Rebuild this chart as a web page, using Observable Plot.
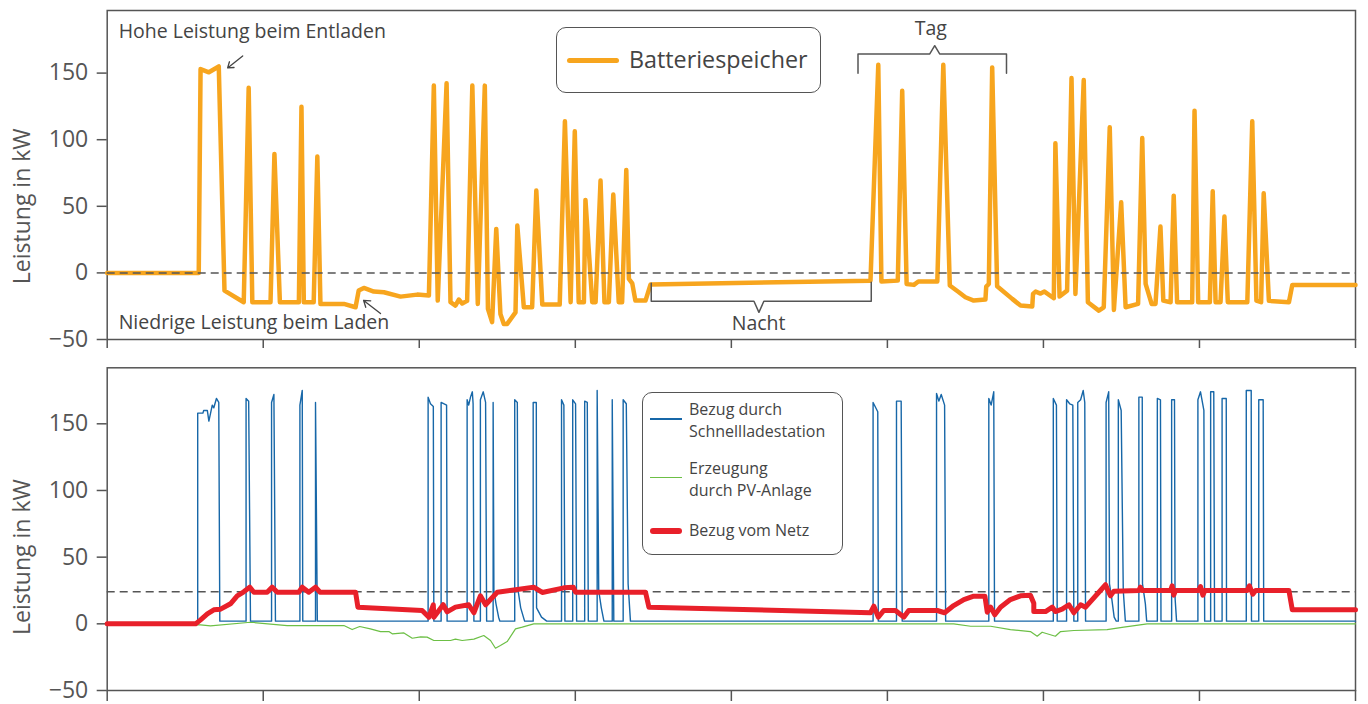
<!DOCTYPE html>
<html><head><meta charset="utf-8">
<script src="https://cdn.jsdelivr.net/npm/d3@7"></script>
<script src="https://cdn.jsdelivr.net/npm/@observablehq/plot@0.6"></script>
<style>
body{margin:0;background:#fff;font-family:"Open Sans",sans-serif;}
#wrap{position:relative;width:1368px;height:704px;overflow:hidden;background:#fff;}
#wrap svg{display:block;}
.legend{position:absolute;border:1.5px solid #555;border-radius:10px;background:#fff;box-sizing:border-box;color:#444;}
.sw{position:absolute;border-radius:3px;}
.lt{position:absolute;white-space:nowrap;font-size:16px;line-height:22px;height:22px;}
</style>
</head><body>
<div id="wrap"></div>
<script>
// ---- data (x in hours, y in kW) ----
const xTicks = [0, 6, 12, 18, 24, 30, 36, 42, 48];
const yTicks = [-50, 0, 50, 100, 150];
const yLabel = "Leistung in kW";

const batterie = [[0,0],[3.52,0],[3.59,153],[3.91,150.6],[4.29,155],[4.51,-13.3],[5.25,-22],[5.44,139],[5.58,-22],[6.28,-22],[6.43,89.3],[6.64,-22],[7.37,-22],[7.47,124.8],[7.56,-22],[7.94,-22],[8.08,87.3],[8.2,-23.3],[9.1,-23.3],[9.55,-25.8],[9.67,-13.3],[9.87,-11.3],[10.25,-14],[10.64,-14.5],[11.28,-17.8],[11.92,-16.3],[12.37,-17],[12.56,140.6],[12.71,-20.8],[13.05,142.3],[13.2,-22],[13.39,-24.5],[13.52,-20],[13.65,-23],[13.84,-21],[14.04,140.6],[14.25,-23.3],[14.52,140.6],[14.64,-27],[14.8,-37],[14.96,33],[15.12,-30.8],[15.25,-38.3],[15.38,-38.3],[15.7,-29.6],[15.77,35.5],[16.02,-25.8],[16.34,-25.8],[16.5,61.8],[16.73,-23.8],[17.4,-23.8],[17.6,113.8],[17.82,-22],[17.98,106.3],[18.13,-22],[18.33,-22],[18.39,54.8],[18.65,-22],[18.78,-22],[18.97,69.3],[19.12,-22],[19.29,-22],[19.46,58.8],[19.67,-22],[19.8,-22],[19.96,77.3],[20.06,-4.5],[20.19,-7.8],[20.31,-20.8],[20.7,-20.8],[20.89,-8.8],[29.35,-5.8],[29.65,156.3],[29.77,-6.5],[30.4,-5.8],[30.57,136.8],[30.74,-8.3],[31.02,-9],[31.19,-6.5],[31.92,-6.5],[32.15,156.3],[32.4,-9.5],[32.75,-14.5],[33.0,-18.3],[33.32,-20.8],[33.77,-20],[33.8,-10.3],[33.9,-8.3],[34.03,154.3],[34.22,-10],[34.8,-19.5],[35.12,-24.5],[35.57,-25.3],[35.6,-15.8],[35.7,-14],[35.89,-15.5],[36.04,-14],[36.4,-19],[36.46,97.3],[36.62,-17.8],[36.91,-13.3],[37.08,146.3],[37.23,-15.8],[37.55,144.8],[37.71,-22],[38.13,-28.3],[38.32,-25.8],[38.55,109.3],[38.71,-27.8],[38.99,53],[39.16,-25.8],[39.64,-23.3],[39.8,101.3],[39.93,-8.3],[40.16,-23.3],[40.31,-23.3],[40.5,34.8],[40.61,-20.8],[40.89,-22],[41.01,58],[41.14,-22],[41.72,-22],[41.81,121.8],[41.95,-22],[42.4,-22],[42.51,61.3],[42.62,-22],[42.81,-22],[42.96,42.3],[43.09,-22],[43.84,-22],[44.03,113.8],[44.19,-20.8],[44.37,-22],[44.47,59.8],[44.67,-21],[45.44,-22],[45.57,-9],[48,-9]];

const ladestation = [[0,0],[3.48,0],[3.48,158],[3.68,158],[3.71,160],[3.85,160],[3.91,152],[4.04,164],[4.1,162],[4.2,169],[4.29,166],[4.33,2],[5.34,2],[5.34,169],[5.44,167],[5.51,2],[6.32,2],[6.32,166],[6.41,172],[6.47,2],[7.41,2],[7.41,164],[7.5,175],[7.52,2],[8.01,2],[8.01,166],[8.08,2],[12.34,2],[12.34,170],[12.43,165],[12.54,163],[12.56,2],[12.84,2],[12.84,166],[13.05,164],[13.07,2],[13.84,2],[13.84,168],[13.9,164],[13.97,170],[14.04,174],[14.07,165],[14.1,2],[14.35,2],[14.35,168],[14.46,174],[14.55,166],[14.59,2],[14.84,2],[14.84,166],[14.87,25],[14.95,15],[15.05,5],[15.1,2],[15.67,2],[15.67,168],[15.77,166],[15.8,25],[15.9,12],[16.05,2],[16.38,2],[16.38,166],[16.5,166],[16.51,12],[16.7,5],[16.9,2],[17.47,2],[17.47,168],[17.56,164],[17.6,2],[17.9,2],[17.9,168],[18.01,165],[18.05,2],[18.36,2],[18.36,167],[18.46,166],[18.5,2],[18.84,2],[18.84,175],[18.9,25],[19.0,12],[19.1,2],[19.42,2],[19.42,168],[19.48,2],[19.84,2],[19.84,168],[19.96,165],[20.03,30],[20.12,2],[29.45,2],[29.45,166],[29.63,159],[29.65,2],[30.35,2],[30.35,167],[30.53,167],[30.57,2],[31.89,2],[31.89,172.7],[31.98,167],[32.07,172],[32.2,164],[32.24,2],[33.9,2],[33.9,169],[33.99,164],[34.09,174],[34.12,2],[36.38,2],[36.38,169],[36.5,164],[36.53,2],[36.89,2],[36.89,168],[37.01,165],[37.13,164],[37.17,2],[37.32,2],[37.32,166],[37.43,168],[37.53,175],[37.59,166],[37.62,2],[38.41,2],[38.41,166],[38.51,174],[38.54,30],[38.62,20],[38.72,5],[38.8,2],[38.88,2],[38.88,168],[38.99,160],[39.07,25],[39.15,2],[39.67,2],[39.67,170],[39.8,170],[39.81,30],[39.92,15],[39.97,2],[40.38,2],[40.38,169],[40.5,168],[40.52,2],[40.93,2],[40.93,168],[41.04,168],[41.06,20],[41.12,2],[41.94,2],[41.94,168],[42.04,174],[42.17,160],[42.2,2],[42.43,2],[42.43,174],[42.55,174],[42.58,2],[42.87,2],[42.87,169],[43.03,169],[43.04,2],[43.8,2],[43.8,175],[43.99,175],[44.0,2],[44.28,2],[44.28,168],[44.45,168],[44.47,2],[48,2]];

const pvAnlage = [[0,0],[3.59,-0.8],[3.97,-1.5],[5.51,1.2],[6.92,-1.3],[9.1,-1.3],[9.42,-4.3],[9.71,-2],[10.12,-3.8],[10.51,-5.8],[10.83,-5.8],[10.96,-7.5],[11.41,-6.8],[11.73,-10.8],[12.05,-9.8],[12.3,-10],[12.56,-12.5],[13.2,-12.5],[13.39,-11.5],[13.65,-12.5],[14.1,-11.5],[14.48,-8.8],[14.74,-12.5],[14.93,-18.3],[15.12,-16.3],[15.38,-13.3],[15.7,-3.8],[15.96,-2.5],[16.4,0],[32.55,0],[33.2,-1.8],[33.97,-1.8],[34.73,-4.3],[35.5,-5.8],[35.76,-9.3],[35.95,-6.3],[36.46,-9.3],[36.66,-5.8],[37.17,-5],[38.45,-4.3],[39.09,-2.5],[39.99,0],[48,0]];

const netz = [[0,0],[3.4,0],[3.59,3],[3.85,7.5],[4.1,10.5],[4.36,11],[4.74,15],[5.0,21],[5.25,24],[5.48,27.5],[5.64,23.7],[6.15,23.7],[6.34,27.5],[6.54,23.7],[7.37,23.7],[7.5,27.5],[7.75,23.7],[8.01,27.5],[8.18,23.7],[9.55,23.7],[9.64,12.5],[12.11,10],[12.37,5],[12.54,14.3],[12.56,5],[12.92,14.3],[13.07,9],[13.39,12.5],[13.9,14.3],[14.1,8.3],[14.35,21],[14.55,14.3],[15.0,23.7],[16.4,27.5],[16.73,23.5],[17.56,27],[17.92,27.5],[18.01,23.7],[20.7,23.7],[20.83,12.5],[29.35,8.3],[29.48,13.2],[29.65,5],[29.86,10],[30.31,10],[30.63,5],[30.82,10],[31.92,10],[32.2,8.3],[32.55,13.7],[32.94,18.2],[33.32,20.7],[33.75,20.7],[33.84,8.7],[33.97,12.5],[34.13,6.8],[34.35,12.5],[34.73,18.2],[35.12,21],[35.5,21.5],[35.63,15.5],[35.63,9.2],[36.08,9.2],[36.34,12.5],[36.46,9.2],[36.72,11],[36.98,14.3],[37.17,8.3],[37.43,14.3],[37.62,12.5],[38.39,29.3],[38.51,23.7],[38.58,21],[38.71,24.5],[39.67,25],[39.73,27.5],[39.8,25],[40.89,25],[40.95,28.5],[41.01,21.5],[41.08,25],[41.97,25],[42.04,28],[42.13,21.5],[42.21,25],[43.84,25],[43.92,28.5],[44.05,22.3],[44.16,25],[45.44,25],[45.57,10.5],[48,10.5]];

const netzGrenze = [24];
const nullLinie = [0];

const tagKlammer = [[28.87,149.8],[28.87,164.4],[31.63,164.4],[31.82,170.6],[32.01,164.4],[34.58,164.4],[34.58,149.8]];
const nachtKlammer = [[20.92,-7.8],[20.92,-21.3],[24.87,-21.3],[25.06,-29.6],[25.25,-21.3],[29.38,-21.3],[29.38,-7]];
const notizenLinks = [
  {x:0.44, y:181, text:"Hohe Leistung beim Entladen"},
  {x:0.44, y:-37.5, text:"Niedrige Leistung beim Laden"}
];
const notizenMitte = [
  {x:31.67, y:183.4, text:"Tag"},
  {x:25.05, y:-38, text:"Nacht"}
];
const pfeile = [
  {x1:5.21, y1:162.9, x2:4.63, y2:153.9},
  {x1:10.51, y1:-30.5, x2:9.86, y2:-20.7}
];
const legendeOben = ["Batteriespeicher"];
const legendeUnten = [["Bezug durch", "Schnellladestation"], ["Erzeugung", "durch PV-Anlage"], ["Bezug vom Netz"]];

const C = {orange:"#F7A51E", blue:"#1767A8", green:"#6CBF45", red:"#E8202A", gray:"#555", text:"#444"};
const FONT = '"Open Sans", sans-serif';
const fmt = d => d < 0 ? "\u2212" + Math.abs(d) : String(d);

function baseMarks(tickSize){
  return [
    Plot.frame({stroke:C.gray, strokeWidth:1.5}),
    Plot.axisX({ticks:xTicks, tickSize, tickFormat:() => "", label:null, stroke:C.gray, strokeWidth:1.5}),
    Plot.axisY({ticks:yTicks, tickSize:10, tickPadding:9, tickFormat:fmt, label:null, fontSize:23, fill:C.gray, stroke:C.gray, strokeWidth:1.5}),
    Plot.text([{y:50, t:yLabel}], {y:"y", text:"t", frameAnchor:"left", rotate:-90, dx:-84.7, fontSize:23, fill:C.gray, textAnchor:"middle"})
  ];
}

const topPlot = Plot.plot({
  width:1368, height:352, marginLeft:106.7, marginRight:13, marginTop:10, marginBottom:13,
  x:{domain:[0,48]}, y:{domain:[-50,197]},
  style:{fontFamily:FONT, color:C.gray, background:"#fff", overflow:"visible"},
  marks:[
    ...baseMarks(9),
    Plot.line(batterie, {x:d=>d[0], y:d=>d[1], stroke:C.orange, strokeWidth:4.5, strokeLinejoin:"round", strokeLinecap:"round"}),
    Plot.ruleY(nullLinie, {stroke:C.gray, strokeWidth:1.5, strokeDasharray:"8,5"}),
    Plot.line(tagKlammer, {x:d=>d[0], y:d=>d[1], stroke:C.gray, strokeWidth:1.5}),
    Plot.line(nachtKlammer, {x:d=>d[0], y:d=>d[1], stroke:C.gray, strokeWidth:1.5}),
    Plot.text(notizenLinks, {x:"x", y:"y", text:"text", textAnchor:"start", fontSize:19.5, fill:C.text}),
    Plot.text(notizenMitte, {x:"x", y:"y", text:"text", textAnchor:"middle", fontSize:19.5, fill:C.text}),
    Plot.arrow(pfeile, {x1:"x1", y1:"y1", x2:"x2", y2:"y2", stroke:C.text, strokeWidth:1.3, headLength:9, headAngle:70})
  ]
});

const bottomPlot = Plot.plot({
  width:1368, height:352, marginLeft:106.7, marginRight:13, marginTop:15.3, marginBottom:14,
  x:{domain:[0,48]}, y:{domain:[-50,192]},
  style:{fontFamily:FONT, color:C.gray, background:"#fff", overflow:"visible"},
  marks:[
    ...baseMarks(11),
    Plot.ruleY(netzGrenze, {stroke:C.gray, strokeWidth:1.5, strokeDasharray:"8,5"}),
    Plot.line(pvAnlage, {x:d=>d[0], y:d=>d[1], stroke:C.green, strokeWidth:1.2}),
    Plot.line(ladestation, {x:d=>d[0], y:d=>d[1], stroke:C.blue, strokeWidth:1.4, strokeLinejoin:"round"}),
    Plot.line(netz, {x:d=>d[0], y:d=>d[1], stroke:C.red, strokeWidth:5, strokeLinejoin:"round", strokeLinecap:"round"})
  ]
});

const wrap = document.getElementById("wrap");
wrap.appendChild(topPlot);
wrap.appendChild(bottomPlot);

// legends
const lg1 = document.createElement("div");
lg1.className = "legend";
Object.assign(lg1.style, {left:"556px", top:"27px", width:"265px", height:"66px"});
lg1.innerHTML = `<div class="sw" style="left:10px;top:30px;width:52px;height:5px;background:${C.orange}"></div>
<div class="lt" style="left:72px;top:14px;font-size:23.3px;line-height:34px;height:34px;">${legendeOben[0]}</div>`;
wrap.appendChild(lg1);

const lg2 = document.createElement("div");
lg2.className = "legend";
Object.assign(lg2.style, {left:"642px", top:"392px", width:"201px", height:"163px"});
const sw2 = [
  {top:25, h:1.6, c:C.blue, r:0},
  {top:84, h:1.4, c:C.green, r:0},
  {top:135, h:6, c:C.red, r:3}
];
const textTops = [[5, 27], [64, 86], [126]];
let html2 = "";
sw2.forEach((s, i) => {
  html2 += `<div class="sw" style="left:7px;top:${s.top}px;width:32px;height:${s.h}px;border-radius:${s.r}px;background:${s.c}"></div>`;
  legendeUnten[i].forEach((line, j) => {
    html2 += `<div class="lt" style="left:46px;top:${textTops[i][j]}px;">${line}</div>`;
  });
});
lg2.innerHTML = html2;
wrap.appendChild(lg2);
</script>
</body></html>
